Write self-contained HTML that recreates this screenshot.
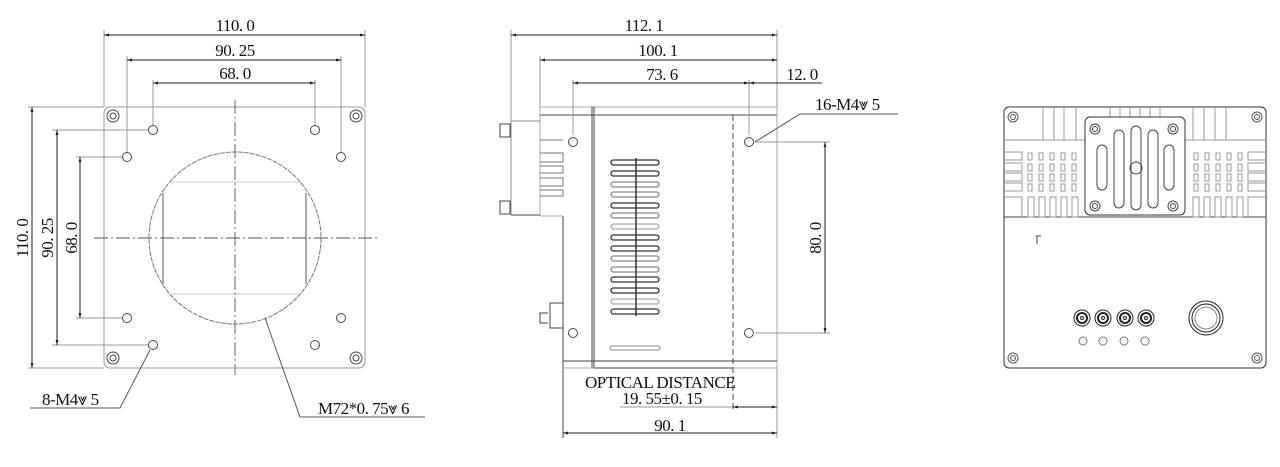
<!DOCTYPE html>
<html><head><meta charset="utf-8"><style>
html,body{margin:0;padding:0;background:#fff;}
svg{display:block;}
text{font-family:"Liberation Serif",serif;font-size:17px;fill:#111;letter-spacing:-0.5px;}
</style></head><body>
<svg width="1280" height="467" viewBox="0 0 1280 467" xmlns="http://www.w3.org/2000/svg">
<defs>
<marker id="a" viewBox="0 0 10 10" refX="10" refY="5" markerWidth="7" markerHeight="5" orient="auto-start-reverse"><path d="M0,2 L10,5 L0,8 z" fill="#222"/></marker>
</defs>
<g fill="none" stroke="#333" stroke-width="1">
<!-- LEFT VIEW -->
<rect x="104" y="107" width="261" height="261" rx="6" stroke="#999"/>
<g stroke="#444">
<circle cx="113" cy="116" r="6"/><circle cx="113" cy="116" r="3"/>
<circle cx="356" cy="116" r="6"/><circle cx="356" cy="116" r="3"/>
<circle cx="113" cy="358" r="6"/><circle cx="113" cy="358" r="3"/>
<circle cx="356" cy="358" r="6"/><circle cx="356" cy="358" r="3"/>
<circle cx="153" cy="130" r="4.5"/><circle cx="315" cy="130" r="4.5"/>
<circle cx="127" cy="157" r="4.5"/><circle cx="341" cy="157" r="4.5"/>
<circle cx="127" cy="318" r="4.5"/><circle cx="341" cy="318" r="4.5"/>
<circle cx="153" cy="345" r="4.5"/><circle cx="315" cy="345" r="4.5"/>
</g>
<circle cx="235" cy="238" r="86" stroke="#777" stroke-dasharray="5,1"/>
<line x1="163" y1="193" x2="163" y2="284" stroke="#555"/><line x1="306" y1="193" x2="306" y2="284" stroke="#555"/>
<line x1="170" y1="182" x2="300" y2="182" stroke="#ccc"/><line x1="170" y1="294" x2="300" y2="294" stroke="#ccc"/>
<line x1="235" y1="100" x2="235" y2="375" stroke="#666" stroke-dasharray="14,3,2,3"/>
<line x1="94" y1="238" x2="378" y2="238" stroke="#555" stroke-dasharray="14,3,2,3"/>
<g stroke="#999"><line x1="104" y1="30" x2="104" y2="107"/><line x1="365" y1="30" x2="365" y2="107"/>
<line x1="127" y1="56" x2="127" y2="152"/><line x1="341" y1="56" x2="341" y2="152"/>
<line x1="153" y1="80" x2="153" y2="125"/><line x1="315" y1="80" x2="315" y2="125"/>
<line x1="28" y1="107" x2="104" y2="107"/><line x1="28" y1="368" x2="104" y2="368"/>
<line x1="52" y1="130" x2="148" y2="130"/><line x1="52" y1="345" x2="148" y2="345"/>
<line x1="76" y1="157" x2="122" y2="157"/><line x1="76" y1="318" x2="122" y2="318"/></g>
<g stroke="#222" marker-start="url(#a)" marker-end="url(#a)">
<line x1="104" y1="35" x2="365" y2="35"/><line x1="127" y1="60" x2="341" y2="60"/><line x1="153" y1="83" x2="315" y2="83"/>
<line x1="32" y1="107" x2="32" y2="368"/><line x1="57" y1="130" x2="57" y2="345"/><line x1="80" y1="157" x2="80" y2="318"/>
</g>
<polyline points="150,350 120,408 30,408" stroke="#555"/>
<polyline points="265,318 300,417 425,417" stroke="#555"/>

<!-- MIDDLE VIEW -->
<g stroke="#444">
<line x1="540" y1="107" x2="777" y2="107" stroke="#aaa"/><line x1="540" y1="115" x2="777" y2="115"/>
<line x1="540" y1="107" x2="540" y2="216" stroke="#aaa"/>
<line x1="777" y1="107" x2="777" y2="368" stroke="#aaa"/>
<line x1="563" y1="216" x2="563" y2="438"/><line x1="540" y1="216" x2="563" y2="216" stroke="#aaa"/>
<line x1="592" y1="107" x2="592" y2="368"/><line x1="594" y1="107" x2="594" y2="368"/>
<line x1="733" y1="115" x2="733" y2="412" stroke-dasharray="6,3"/>
<line x1="563" y1="361" x2="777" y2="361"/><line x1="563" y1="368" x2="777" y2="368" stroke="#aaa"/>
<line x1="594" y1="368" x2="733" y2="368"/>
<line x1="511" y1="121" x2="540" y2="121" stroke="#888"/><line x1="511" y1="215" x2="540" y2="215"/>
<line x1="511" y1="121" x2="511" y2="215" stroke="#888"/>
<rect x="500" y="124" width="10" height="13"/><rect x="500" y="201" width="10" height="13"/>
<path d="M540,140 H563 M540,153 H563 V162 H540 M540,166 H563 V173 H540 M540,178 H563 V186 H540 M540,190 H563 V196 H540" stroke="#777"/>
<path d="M563,303 H550 V328 H563 M548,313 H540 V323 H548"/>
<circle cx="573" cy="142" r="4.5"/><circle cx="749" cy="142" r="4.5"/>
<circle cx="573" cy="333" r="4.5"/><circle cx="749" cy="333" r="4.5"/>
<rect x="610" y="346" width="50" height="4" rx="2" stroke="#888"/>
</g>
<g stroke="#333" stroke-width="1.3">
<rect x="611" y="160" width="48" height="5" rx="2.5"/><rect x="611" y="171" width="48" height="5" rx="2.5"/>
<rect x="611" y="182" width="48" height="5" rx="2.5" stroke="#888"/><rect x="611" y="192" width="48" height="5" rx="2.5" stroke="#888"/>
<rect x="611" y="203" width="48" height="5" rx="2.5"/><rect x="611" y="213" width="48" height="5" rx="2.5" stroke="#888"/>
<rect x="611" y="224" width="48" height="5" rx="2.5" stroke="#aaa"/><rect x="611" y="235" width="48" height="5" rx="2.5"/>
<rect x="611" y="246" width="48" height="5" rx="2.5"/><rect x="611" y="256" width="48" height="5" rx="2.5" stroke="#888"/>
<rect x="611" y="267" width="48" height="5" rx="2.5" stroke="#888"/><rect x="611" y="277" width="48" height="5" rx="2.5"/>
<rect x="611" y="288" width="48" height="5" rx="2.5"/><rect x="611" y="299" width="48" height="5" rx="2.5" stroke="#aaa"/>
<rect x="611" y="309" width="48" height="5" rx="2.5"/>
<line x1="636" y1="158" x2="636" y2="316" stroke-width="1.5"/>
</g>
<g stroke="#999"><line x1="511" y1="30" x2="511" y2="121"/><line x1="777" y1="30" x2="777" y2="107"/>
<line x1="540" y1="56" x2="540" y2="107"/><line x1="573" y1="80" x2="573" y2="135"/><line x1="749" y1="80" x2="749" y2="135"/>
<line x1="755" y1="142" x2="830" y2="142"/><line x1="755" y1="333" x2="830" y2="333"/>
<line x1="777" y1="368" x2="777" y2="438"/></g>
<g stroke="#222" marker-start="url(#a)" marker-end="url(#a)">
<line x1="511" y1="35" x2="777" y2="35"/><line x1="540" y1="60" x2="777" y2="60"/><line x1="573" y1="83" x2="749" y2="83"/>
<line x1="825" y1="142" x2="825" y2="333"/><line x1="563" y1="433" x2="777" y2="433"/>
</g>
<line x1="749" y1="83" x2="822" y2="83" stroke="#222" marker-start="url(#a)"/>
<line x1="733" y1="407" x2="777" y2="407" stroke="#222" marker-start="url(#a)" marker-end="url(#a)"/>
<line x1="620" y1="407" x2="733" y2="407" stroke="#999"/>
<polyline points="755,142 800,114 898,114" stroke="#555"/>

<!-- RIGHT VIEW -->
<rect x="1004" y="107" width="262" height="261" rx="5" stroke="#333"/>
<g stroke="#555">
<circle cx="1013" cy="117" r="5"/><circle cx="1013" cy="117" r="2.5"/>
<circle cx="1257" cy="117" r="5"/><circle cx="1257" cy="117" r="2.5"/>
<circle cx="1013" cy="358" r="5"/><circle cx="1013" cy="358" r="2.5"/>
<circle cx="1257" cy="358" r="5"/><circle cx="1257" cy="358" r="2.5"/>
</g>
<g stroke="#999">
<line x1="1004" y1="217" x2="1266" y2="217" stroke="#444"/>
<path d="M1043,107 V140 M1054,107 V140 M1064,107 V140 M1076,107 V140 M1110,107 V122 M1120,107 V122 M1130,107 V122 M1140,107 V122 M1150,107 V122 M1160,107 V122 M1193,107 V140 M1204,107 V140 M1215,107 V140 M1226,107 V140 M1004,140 H1085 M1185,140 H1266"/>
<path d="M1004,152 H1022 V160 H1004 M1004,163 H1022 V171 H1004 M1004,173 H1022 V181 H1004 M1004,183 H1022 V191 H1004 M1004,197 H1022 V217"/>
<path d="M1266,152 H1248 V160 H1266 M1266,163 H1248 V171 H1266 M1266,173 H1248 V181 H1266 M1266,183 H1248 V191 H1266 M1266,197 H1248 V217"/>
<rect x="1028" y="153" width="4" height="7"/><rect x="1039" y="153" width="4" height="7"/><rect x="1050" y="153" width="4" height="7"/><rect x="1061" y="153" width="4" height="7"/><rect x="1072" y="153" width="4" height="7"/>
<rect x="1028" y="164" width="4" height="7"/><rect x="1039" y="164" width="4" height="7"/><rect x="1050" y="164" width="4" height="7"/><rect x="1061" y="164" width="4" height="7"/><rect x="1072" y="164" width="4" height="7"/>
<rect x="1028" y="174" width="4" height="7"/><rect x="1039" y="174" width="4" height="7"/><rect x="1050" y="174" width="4" height="7"/><rect x="1061" y="174" width="4" height="7"/><rect x="1072" y="174" width="4" height="7"/>
<rect x="1028" y="184" width="4" height="7"/><rect x="1039" y="184" width="4" height="7"/><rect x="1050" y="184" width="4" height="7"/><rect x="1061" y="184" width="4" height="7"/><rect x="1072" y="184" width="4" height="7"/>
<rect x="1194" y="153" width="4" height="7"/><rect x="1205" y="153" width="4" height="7"/><rect x="1216" y="153" width="4" height="7"/><rect x="1227" y="153" width="4" height="7"/><rect x="1238" y="153" width="4" height="7"/>
<rect x="1194" y="164" width="4" height="7"/><rect x="1205" y="164" width="4" height="7"/><rect x="1216" y="164" width="4" height="7"/><rect x="1227" y="164" width="4" height="7"/><rect x="1238" y="164" width="4" height="7"/>
<rect x="1194" y="174" width="4" height="7"/><rect x="1205" y="174" width="4" height="7"/><rect x="1216" y="174" width="4" height="7"/><rect x="1227" y="174" width="4" height="7"/><rect x="1238" y="174" width="4" height="7"/>
<rect x="1194" y="184" width="4" height="7"/><rect x="1205" y="184" width="4" height="7"/><rect x="1216" y="184" width="4" height="7"/><rect x="1227" y="184" width="4" height="7"/><rect x="1238" y="184" width="4" height="7"/>
<rect x="1028" y="197" width="6" height="20"/><rect x="1039" y="197" width="6" height="20"/><rect x="1050" y="197" width="6" height="20"/><rect x="1061" y="197" width="6" height="20"/><rect x="1072" y="197" width="6" height="20"/>
<rect x="1193" y="197" width="6" height="20"/><rect x="1204" y="197" width="6" height="20"/><rect x="1215" y="197" width="6" height="20"/><rect x="1226" y="197" width="6" height="20"/><rect x="1237" y="197" width="6" height="20"/>
</g>
<rect x="1085" y="117" width="100" height="98" rx="5" stroke="#333" fill="#fff"/>
<g stroke="#444">
<circle cx="1095" cy="129" r="5"/><circle cx="1095" cy="129" r="2.5"/>
<circle cx="1173" cy="129" r="5"/><circle cx="1173" cy="129" r="2.5"/>
<circle cx="1095" cy="206" r="5"/><circle cx="1095" cy="206" r="2.5"/>
<circle cx="1173" cy="206" r="5"/><circle cx="1173" cy="206" r="2.5"/>
<rect x="1097" y="145" width="10" height="45" rx="5"/><rect x="1114" y="130" width="10" height="78" rx="5"/>
<rect x="1131" y="126" width="10" height="84" rx="5"/><rect x="1148" y="130" width="10" height="78" rx="5"/>
<rect x="1164" y="145" width="10" height="45" rx="5"/>
<circle cx="1136" cy="168" r="6"/>
<line x1="1036" y1="236" x2="1041" y2="236"/><line x1="1037" y1="236" x2="1037" y2="244"/>
</g>
<g stroke="#222">
<circle cx="1082" cy="318" r="8"/><circle cx="1082" cy="318" r="5" stroke-width="2"/><circle cx="1082" cy="318" r="1.5"/>
<circle cx="1103" cy="318" r="8"/><circle cx="1103" cy="318" r="5" stroke-width="2"/><circle cx="1103" cy="318" r="1.5"/>
<circle cx="1125" cy="318" r="8"/><circle cx="1125" cy="318" r="5" stroke-width="2"/><circle cx="1125" cy="318" r="1.5"/>
<circle cx="1146" cy="318" r="8"/><circle cx="1146" cy="318" r="5" stroke-width="2"/><circle cx="1146" cy="318" r="1.5"/>
<circle cx="1206" cy="318" r="17"/><circle cx="1206" cy="318" r="14"/><circle cx="1206" cy="318" r="11" stroke="#888"/>
</g>
<g stroke="#777">
<circle cx="1083" cy="341" r="4"/><circle cx="1103" cy="341" r="4"/><circle cx="1124" cy="341" r="4"/><circle cx="1145" cy="341" r="4"/>
</g>
</g>
<!-- TEXT -->
<text x="235" y="31" text-anchor="middle">110. 0</text>
<text x="235" y="56" text-anchor="middle">90. 25</text>
<text x="235" y="79" text-anchor="middle">68. 0</text>
<text transform="translate(28,238) rotate(-90)" text-anchor="middle">110. 0</text>
<text transform="translate(53,238) rotate(-90)" text-anchor="middle">90. 25</text>
<text transform="translate(77,238) rotate(-90)" text-anchor="middle">68. 0</text>
<text x="42" y="405">8-M4&#x2A54; 5</text>
<text x="318" y="414">M72*0. 75&#x2A54; 6</text>
<text x="644" y="31" text-anchor="middle">112. 1</text>
<text x="658" y="56" text-anchor="middle">100. 1</text>
<text x="662" y="80" text-anchor="middle">73. 6</text>
<text x="802" y="80" text-anchor="middle">12. 0</text>
<text x="815" y="110">16-M4&#x2A54; 5</text>
<text transform="translate(821,238) rotate(-90)" text-anchor="middle">80. 0</text>
<text x="585" y="388">OPTICAL DISTANCE</text>
<text x="622" y="404">19. 55±0. 15</text>
<text x="670" y="431" text-anchor="middle">90. 1</text>
</svg>
</body></html>
